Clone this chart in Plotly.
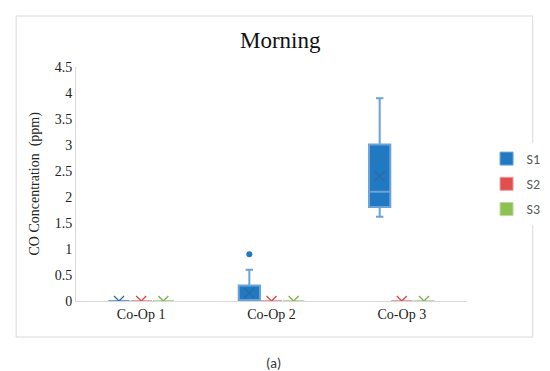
import plotly.graph_objects as go

categories = ["Co-Op 1", "Co-Op 2", "Co-Op 3"]
series = ["S1", "S2", "S3"]

# box statistics per series, per category
q1 = {"S1": [0, 0, 1.81], "S2": [0, 0, 0], "S3": [0, 0, 0]}
median = {"S1": [0, 0, 2.10], "S2": [0, 0, 0], "S3": [0, 0, 0]}
q3 = {"S1": [0, 0.30, 3.01], "S2": [0, 0, 0], "S3": [0, 0, 0]}
lowerfence = {"S1": [0, 0, 1.62], "S2": [0, 0, 0], "S3": [0, 0, 0]}
upperfence = {"S1": [0, 0.60, 3.90], "S2": [0, 0, 0], "S3": [0, 0, 0]}
mean = {"S1": [0, 0.16, 2.40], "S2": [0, 0, 0], "S3": [0, 0, 0]}
outlier_cat = {"S1": ["Co-Op 2"], "S2": [], "S3": []}
outlier_val = {"S1": [0.90], "S2": [], "S3": []}

y_ticks = [0, 0.5, 1, 1.5, 2, 2.5, 3, 3.5, 4, 4.5]

fill_colors = {"S1": "#2179C2", "S2": "#E04E4E", "S3": "#8DC152"}
line_colors = {"S1": "#6AA3D8", "S2": "#EC9E9E", "S3": "#BADB9F"}
mark_colors = {"S1": "#2B6AA6", "S2": "#D94545", "S3": "#7DB045"}

group_offset = 0.17
box_width = 0.163

serif = "Palatino Linotype, Book Antiqua, Palatino, Liberation Serif, serif"
sans = "Calibri, Carlito, Lato, Open Sans, sans-serif"

fig = go.Figure()
for si, s in enumerate(series):
    off = (si - 1) * group_offset
    pos = [ci + off for ci in range(len(categories))]
    fig.add_trace(go.Box(
        x=pos, q1=q1[s], median=median[s], q3=q3[s],
        lowerfence=lowerfence[s], upperfence=upperfence[s],
        width=box_width, fillcolor=fill_colors[s],
        line=dict(color=line_colors[s], width=2),
        whiskerwidth=0.35, boxpoints=False, showlegend=False, hoverinfo="skip",
    ))
    fig.add_trace(go.Scatter(
        x=pos, y=mean[s], mode="markers", showlegend=False, hoverinfo="skip",
        marker=dict(symbol="x-thin-open", size=10, color=mark_colors[s],
                    line=dict(color=mark_colors[s], width=1.3)),
    ))
    if outlier_val[s]:
        opos = [categories.index(c) + off for c in outlier_cat[s]]
        fig.add_trace(go.Scatter(
            x=opos, y=outlier_val[s], mode="markers", showlegend=False,
            marker=dict(symbol="circle", size=6, color=fill_colors[s]),
        ))
    fig.add_trace(go.Scatter(
        x=[None], y=[None], mode="markers", name=s, legendgroup=s,
        marker=dict(symbol="square", size=13, color=fill_colors[s],
                    line=dict(color=line_colors[s], width=1)),
    ))

fig.update_layout(
    width=550, height=371,
    margin=dict(l=68, r=77, t=59, b=78),
    paper_bgcolor="white", plot_bgcolor="white",
    title=dict(text="Morning", x=0.495, xanchor="center", y=0.914, yanchor="middle",
               font=dict(family=serif, size=23, color="#111111")),
    showlegend=True,
    legend=dict(x=1.05, xanchor="left", y=0.5, yanchor="middle",
                font=dict(family=sans, size=14, color="#595959"),
                tracegroupgap=4, itemwidth=30),
    xaxis=dict(range=[-0.5, 2.5], tickvals=list(range(len(categories))), ticktext=categories,
               showline=True, linecolor="#d9d9d9", linewidth=1, showgrid=False, zeroline=False,
               layer="below traces",
               ticks="", tickfont=dict(family=serif, size=14, color="#222222")),
    yaxis=dict(range=[0, 4.5], tickvals=y_ticks, ticktext=[f"{v:g}" for v in y_ticks],
               showline=True, linecolor="#d9d9d9", linewidth=1, showgrid=False, zeroline=False,
               layer="below traces",
               ticks="", tickfont=dict(family=serif, size=14, color="#222222")),
    shapes=[dict(type="rect", xref="paper", yref="paper", x0=-0.153, x1=1.168,
                 y0=-0.154, y1=1.218, line=dict(color="#d9d9d9", width=1))],
    annotations=[
        dict(text="CO Concentration  (ppm)", xref="paper", yref="paper", x=-0.106, y=0.5,
             textangle=-90, showarrow=False, xanchor="center", yanchor="middle",
             font=dict(family=serif, size=14, color="#222222")),
        dict(text="(a)", xref="paper", yref="paper", x=0.506, y=-0.265, showarrow=False,
             xanchor="center", yanchor="middle",
             font=dict(family=sans, size=14, color="#333333")),
    ],
)

fig.write_html("out.html")
